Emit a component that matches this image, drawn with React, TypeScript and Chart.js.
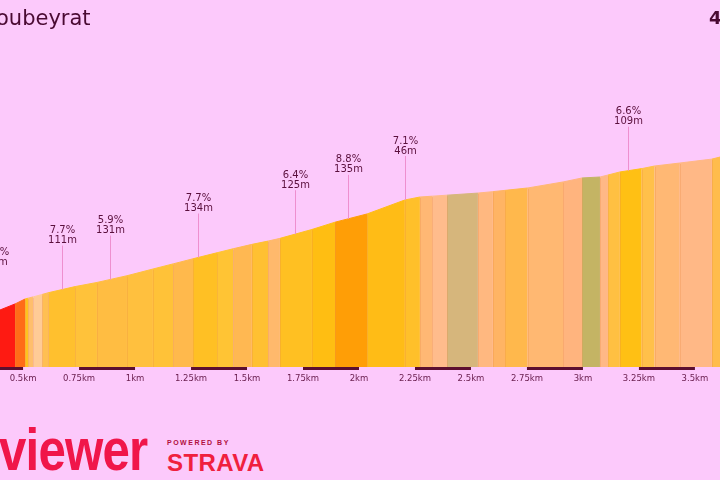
import { useEffect, useRef } from "react";
import { Chart, registerables } from "chart.js";

Chart.register(...registerables);

// Profile break points: distance along the climb (km) and altitude (m)
const distanceKm = [
  0.375, 0.464, 0.509, 0.522, 0.545, 0.585, 0.612, 0.732, 0.83, 0.964,
  1.08, 1.17, 1.259, 1.366, 1.438, 1.522, 1.594, 1.647, 1.79, 1.893,
  2.036, 2.205, 2.272, 2.326, 2.393, 2.531, 2.598, 2.652, 2.754, 2.911,
  2.996, 3.076, 3.112, 3.165, 3.263, 3.321, 3.433, 3.576, 3.634,
];
const elevationM = [
  568.8, 578.8, 585.0, 586.0, 587.6, 590.7, 592.8, 600.5, 605.7, 614.1,
  622.5, 628.9, 635.3, 642.8, 647.8, 653.3, 657.4, 660.8, 671.9, 681.0,
  691.3, 708.8, 712.5, 713.5, 714.8, 717.4, 719.2, 720.8, 723.8, 731.3,
  736.3, 737.5, 740.0, 743.8, 748.0, 751.3, 755.0, 759.9, 764.0,
];

// Gradient colour of each band between two break points
const bandColors = [
  "#fe1a12", "#ff6c18", "#ffc21e", "#ffbe6c", "#ffcb96", "#ffbf52", "#ffc02e",
  "#ffc23a", "#ffbd42", "#ffc03e", "#ffc238", "#ffb94c", "#ffc024", "#ffc434",
  "#ffb852", "#ffc032", "#ffb96c", "#ffc022", "#ffbe12", "#ff9e06", "#ffbc16",
  "#ffc02a", "#ffb874", "#ffbc8c", "#d6b67c", "#ffb880", "#ffb464", "#ffb84c",
  "#ffb872", "#ffb47e", "#c4b464", "#ffb886", "#ffc042", "#ffc014", "#ffc04a",
  "#ffb874", "#ffb886", "#ffbc4c",
];

// Distance axis
const tickKm = [0.5, 0.75, 1, 1.25, 1.5, 1.75, 2, 2.25, 2.5, 2.75, 3, 3.25, 3.5];
const axisMinKm = 0.397;
const axisMaxKm = 3.612;

// Alternating quarter-kilometre markers under the axis
const quarterStripes = [
  [0.25, 0.5], [0.75, 1], [1.25, 1.5], [1.75, 2], [2.25, 2.5],
  [2.75, 3], [3.25, 3.5], [3.75, 4],
];

// Climb section pins: position, average gradient and section length
const pinKm = [0.38, 0.674, 0.888, 1.281, 1.714, 1.951, 2.205, 3.201];
const pinGrade = ["9.4%", "7.7%", "5.9%", "7.7%", "6.4%", "8.8%", "7.1%", "6.6%"];
const pinLength = ["88m", "111m", "131m", "134m", "125m", "135m", "46m", "109m"];

const BG = "#fcc9fb";
const INK = "#5a0f3c";

function altitudeAt(km: number): number {
  for (let i = 1; i < distanceKm.length; i++) {
    if (km <= distanceKm[i]) {
      const d0 = distanceKm[i - 1];
      const t = (km - d0) / (distanceKm[i] - d0);
      return elevationM[i - 1] + t * (elevationM[i] - elevationM[i - 1]);
    }
  }
  return elevationM[elevationM.length - 1];
}

const profileExtras = {
  id: "profileExtras",
  afterDatasetsDraw(chart: any) {
    const { ctx, chartArea, scales } = chart;
    const xs = scales.x;
    const ys = scales.y;
    ctx.save();

    // faint separators between gradient bands
    ctx.strokeStyle = "rgba(232,140,70,0.28)";
    ctx.lineWidth = 1;
    for (let i = 1; i < distanceKm.length - 1; i++) {
      const px = Math.round(xs.getPixelForValue(distanceKm[i])) + 0.5;
      ctx.beginPath();
      ctx.moveTo(px, ys.getPixelForValue(elevationM[i]) + 1);
      ctx.lineTo(px, chartArea.bottom);
      ctx.stroke();
    }

    // quarter-km stripes
    ctx.fillStyle = "#5c0f30";
    for (const [a, b] of quarterStripes) {
      const x0 = xs.getPixelForValue(a);
      const x1 = xs.getPixelForValue(b);
      ctx.fillRect(x0, chartArea.bottom, x1 - x0, 3);
    }

    // section pins
    ctx.font = "10px 'DejaVu Sans'";
    ctx.textAlign = "center";
    ctx.textBaseline = "middle";
    pinKm.forEach((km, i) => {
      const px = Math.round(xs.getPixelForValue(km)) + 0.5;
      const py = ys.getPixelForValue(altitudeAt(km));
      ctx.strokeStyle = "#ee8fcf";
      ctx.beginPath();
      ctx.moveTo(px, py - 44);
      ctx.lineTo(px, py);
      ctx.stroke();
      ctx.fillStyle = INK;
      ctx.fillText(pinGrade[i], px, py - 59);
      ctx.fillText(pinLength[i], px, py - 49);
    });
    ctx.restore();
  },
};

function ProfileChart() {
  const canvasRef = useRef<HTMLCanvasElement>(null);

  useEffect(() => {
    if (!canvasRef.current) return;
    const chart = new Chart(canvasRef.current, {
      type: "line",
      data: {
        datasets: [
          {
            data: distanceKm.map((d, i) => ({ x: d, y: elevationM[i] })),
            fill: "start",
            backgroundColor: bandColors[0],
            borderColor: bandColors[0],
            borderWidth: 1,
            pointRadius: 0,
            tension: 0,
            segment: {
              backgroundColor: (c: any) => bandColors[c.p0DataIndex],
              borderColor: (c: any) => bandColors[c.p0DataIndex],
            },
          },
        ],
      },
      options: {
        animation: false,
        responsive: true,
        maintainAspectRatio: false,
        layout: { padding: { top: 127, left: 0, right: 0, bottom: 0 } },
        plugins: {
          legend: { display: false },
          tooltip: { enabled: false },
        },
        scales: {
          x: {
            type: "linear",
            min: axisMinKm,
            max: axisMaxKm,
            grid: { display: false, drawTicks: false },
            border: { display: false },
            afterBuildTicks: (s: any) => {
              s.ticks = tickKm.map((v) => ({ value: v }));
            },
            afterFit: (s: any) => {
              s.height = 33;
            },
            ticks: {
              autoSkip: false,
              maxRotation: 0,
              padding: 7,
              color: "#6b2050",
              font: { family: "'DejaVu Sans'", size: 8.5 },
              callback: (v: any) => `${v}km`,
            },
          },
          y: { display: false, min: 500, max: 800 },
        },
      },
      plugins: [profileExtras],
    });
    return () => chart.destroy();
  }, []);

  return (
    <div style={{ position: "absolute", left: 0, top: 0, width: 720, height: 400 }}>
      <canvas ref={canvasRef} />
    </div>
  );
}

export default function App() {
  return (
    <div
      style={{
        position: "fixed",
        left: 0,
        top: 0,
        width: 720,
        height: 480,
        overflow: "hidden",
        background: BG,
        fontFamily: "'DejaVu Sans', sans-serif",
      }}
    >
      <ProfileChart />
      <div
        style={{
          position: "absolute",
          left: -4,
          top: 6,
          fontSize: 21,
          lineHeight: "24px",
          color: "#4a0a32",
          whiteSpace: "nowrap",
        }}
      >
        oubeyrat
      </div>
      <div
        style={{
          position: "absolute",
          left: 709,
          top: 6,
          fontSize: 18,
          fontWeight: "bold",
          lineHeight: "24px",
          color: "#4a0a32",
        }}
      >
        4
      </div>
      <div
        style={{
          position: "absolute",
          left: -1,
          top: 420,
          fontFamily: "'Liberation Sans', Arial, sans-serif",
          fontWeight: "bold",
          fontSize: 60,
          lineHeight: "60px",
          letterSpacing: -1,
          color: "#f0164a",
          transform: "scaleX(0.82)",
          transformOrigin: "0 0",
          whiteSpace: "nowrap",
        }}
      >
        viewer
      </div>
      <div
        style={{
          position: "absolute",
          left: 167,
          top: 438,
          fontFamily: "'Liberation Sans', Arial, sans-serif",
          fontWeight: "bold",
          fontSize: 7,
          lineHeight: "9px",
          letterSpacing: 1.5,
          color: "#b01040",
          whiteSpace: "nowrap",
        }}
      >
        POWERED BY
      </div>
      <div
        style={{
          position: "absolute",
          left: 167,
          top: 450,
          fontFamily: "'Liberation Sans', Arial, sans-serif",
          fontWeight: "bold",
          fontSize: 24,
          lineHeight: "26px",
          letterSpacing: 0.4,
          color: "#f0203e",
          whiteSpace: "nowrap",
        }}
      >
        STRAVA
      </div>
    </div>
  );
}
